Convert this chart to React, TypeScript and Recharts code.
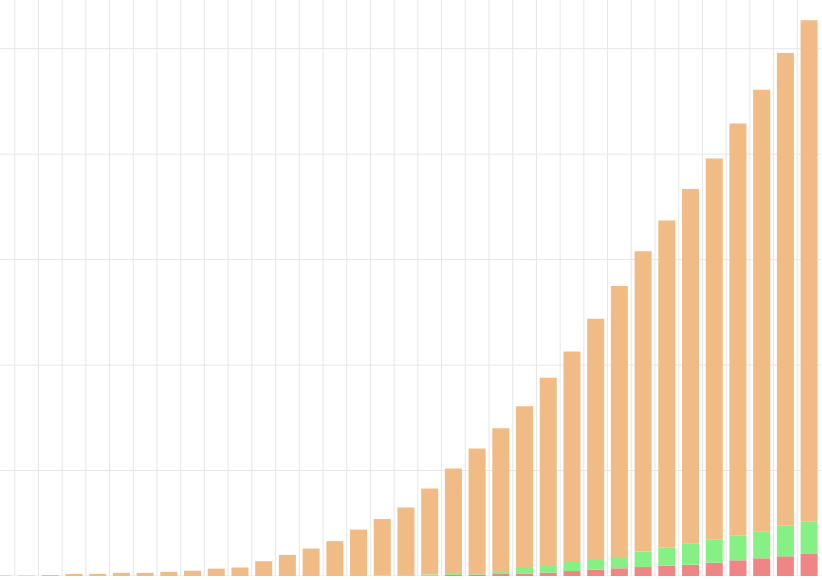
import { BarChart, Bar, XAxis, YAxis, CartesianGrid } from "recharts";

document.body.style.margin = "0";

const periods = Array.from({ length: 35 }, (_, i) => `P${i + 1}`);

const redValues = [
  0, 0, 0, 0, 0, 0, 0, 0, 0, 0, 0, 0, 0, 0, 0, 0, 0,
  0.3, 0.5, 1, 1.4, 1.9, 2.4, 3.3, 4.7, 6, 7.3, 8.5, 9.8, 10.7, 12.6, 14.9, 16.8, 18.7, 20.9,
];

const greenValues = [
  0, 0, 0, 0, 0, 0, 0, 0, 0, 0, 0, 0, 0, 0, 0, 0, 0.5,
  0.7, 0.9, 0.9, 1.4, 2.8, 5.2, 7.1, 8.6, 9.2, 9.8, 14.9, 17.4, 19.9, 22.2, 23.7, 25.2, 29.4, 31,
];

const orangeValues = [
  0.5, 0.5, 1, 2, 2, 3, 3, 4, 5, 7, 8, 14, 20, 26, 33, 44, 53.5,
  64, 81.6, 100.1, 118.2, 135.3, 153.4, 177.6, 199.7, 228.8, 257.9, 284.6, 309.8, 336.4, 361.2,
  390.4, 419, 447.9, 475.1,
];

const yTicks = [0, 100, 200, 300, 400, 500];

const data = periods.map((p, i) => ({
  period: p,
  red: redValues[i],
  green: greenValues[i],
  orange: orangeValues[i],
}));

export default function App() {
  return (
    <div style={{ position: "absolute", left: -9, top: -4 }}>
      <BarChart
        width={830}
        height={580}
        data={data}
        margin={{ top: 0, right: 0, bottom: 0, left: 0 }}
        barCategoryGap="14%"
      >
        <CartesianGrid
          stroke="#e6e6e6"
          verticalCoordinatesGenerator={({ offset }: any) =>
            periods.map((_, i) => offset.left + (i * offset.width) / periods.length)
          }
        />
        <XAxis dataKey="period" hide />
        <YAxis hide domain={[0, 550]} ticks={yTicks} />
        <Bar dataKey="red" stackId="a" fill="#f08585" isAnimationActive={false} />
        <Bar dataKey="green" stackId="a" fill="#87f085" isAnimationActive={false} />
        <Bar dataKey="orange" stackId="a" fill="#f1bb85" isAnimationActive={false} />
      </BarChart>
    </div>
  );
}
